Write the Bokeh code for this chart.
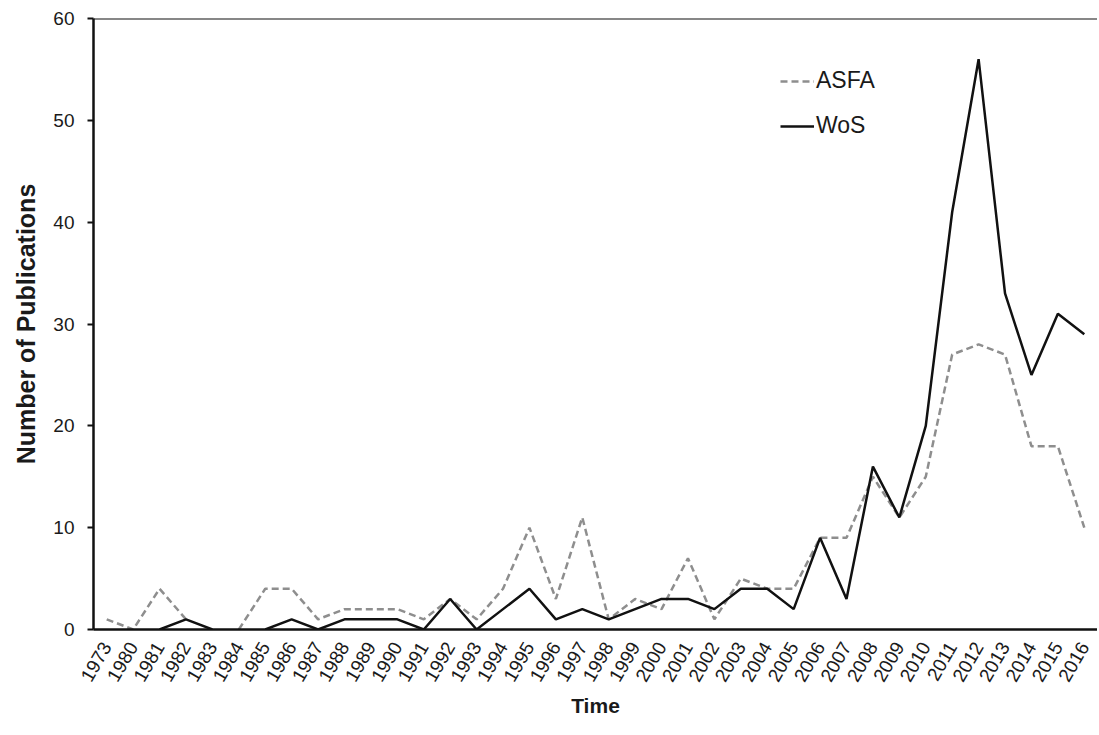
import math
from bokeh.plotting import figure
from bokeh.models import ColumnDataSource, FactorRange, Range1d, Span, Legend, LegendItem, FixedTicker
from bokeh.embed import file_html
from bokeh.resources import INLINE

nan = float("nan")

years = ["1973"] + [str(y) for y in range(1980, 2017)]
asfa = [1, 0, 4, 1, nan, 0, 4, 4, 1, 2, 2, 2, 1, 3, 1, 4, 10, 3, 11, 1, 3, 2, 7, 1,
        5, 4, 4, 9, 9, 15, 11, 15, 27, 28, 27, 18, 18, 10]
wos = [nan, nan, 0, 1, 0, nan, 0, 1, 0, 1, 1, 1, 0, 3, 0, 2, 4, 1, 2, 1, 2, 3, 3, 2,
       4, 4, 2, 9, 3, 16, 11, 20, 41, 56, 33, 25, 31, 29]
y_ticks = [0, 10, 20, 30, 40, 50, 60]

src = ColumnDataSource(dict(year=years, asfa=asfa, wos=wos))

p = figure(width=1097, height=733, x_range=FactorRange(*years, range_padding=0),
           y_range=Range1d(0, 60), output_backend="svg", toolbar_location=None,
           min_border_left=93, min_border_top=18, min_border_right=0, min_border_bottom=104)

p.outline_line_color = None
p.xgrid.grid_line_color = None
p.ygrid.grid_line_color = None
p.background_fill_color = "white"
p.border_fill_color = "white"

r_asfa = p.line("year", "asfa", source=src, line_color="#8e8e8e", line_width=2.5, line_dash="7 4")
r_wos = p.line("year", "wos", source=src, line_color="#111111", line_width=2.5)

top = Span(location=60, dimension="width", line_color="#111111", line_width=2)
p.add_layout(top)

font = "Liberation Sans"
p.yaxis.ticker = FixedTicker(ticks=y_ticks)
p.yaxis.minor_tick_line_color = None
p.yaxis.major_tick_out = 6
p.yaxis.major_tick_in = 0
p.yaxis.major_tick_line_width = 2
p.yaxis.axis_line_width = 2.5
p.yaxis.axis_line_color = "#111111"
p.yaxis.major_tick_line_color = "#111111"
p.yaxis.major_label_text_font = font
p.yaxis.major_label_text_font_size = "19px"
p.yaxis.major_label_text_color = "#1a1a1a"
p.yaxis.major_label_standoff = 13
p.yaxis.axis_label = "Number of Publications"
p.yaxis.axis_label_text_font = font
p.yaxis.axis_label_text_font_style = "bold"
p.yaxis.axis_label_text_font_size = "25px"
p.yaxis.axis_label_text_color = "#1a1a1a"
p.yaxis.axis_label_standoff = 10

p.xaxis.axis_line_width = 2.5
p.xaxis.axis_line_color = "#111111"
p.xaxis.major_tick_line_color = None
p.xaxis.minor_tick_line_color = None
p.xaxis.major_label_orientation = math.pi / 3
p.xaxis.major_label_text_font = font
p.xaxis.major_label_text_font_size = "19px"
p.xaxis.major_label_text_color = "#1a1a1a"
p.xaxis.major_label_standoff = 8
p.xaxis.axis_label = "Time"
p.xaxis.axis_label_text_font = font
p.xaxis.axis_label_text_font_style = "bold"
p.xaxis.axis_label_text_font_size = "21px"
p.xaxis.axis_label_text_color = "#1a1a1a"
p.xaxis.axis_label_standoff = 4

legend = Legend(items=[LegendItem(label="ASFA", renderers=[r_asfa]),
                       LegendItem(label="WoS", renderers=[r_wos])],
                location=(687, 490))
legend.border_line_color = None
legend.background_fill_alpha = 0
legend.label_text_font = font
legend.label_text_font_size = "23px"
legend.label_text_color = "#1a1a1a"
legend.glyph_width = 34
legend.glyph_height = 24
legend.label_height = 24
legend.spacing = 18
legend.padding = 0
legend.margin = 0
legend.label_standoff = 2
p.add_layout(legend)

open("out.html", "w").write(file_html(p, INLINE))
